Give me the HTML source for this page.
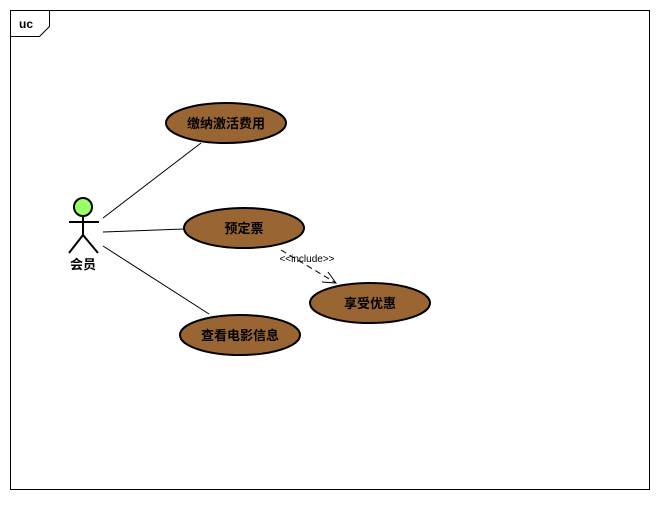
<!DOCTYPE html>
<html><head><meta charset="utf-8"><style>body{margin:0;background:#fff}</style></head><body>
<svg width="660" height="500" xmlns="http://www.w3.org/2000/svg" font-family="Liberation Sans, Noto Sans CJK SC, sans-serif">
<rect x="10.5" y="10.5" width="639" height="479" fill="#fff" stroke="#000"/>
<path d="M10.5 36.5 H39.5 L49.5 26.5 V10.5" fill="none" stroke="#000"/>
<text x="19" y="28" font-size="12" font-weight="bold">uc</text>
<g stroke="#000" fill="none">
<line x1="103" y1="218" x2="201" y2="143"/>
<line x1="103" y1="232" x2="184" y2="229"/>
<line x1="103" y1="246" x2="209" y2="314"/>
<line x1="281" y1="250" x2="336" y2="283" stroke-dasharray="6,4"/>
<path d="M322 282 L336 283 L328 272"/>
</g>
<g fill="#996633" stroke="#000" stroke-width="2">
<ellipse cx="226" cy="123" rx="60" ry="20"/>
<ellipse cx="244" cy="228" rx="60" ry="20"/>
<ellipse cx="370" cy="303" rx="60" ry="20"/>
<ellipse cx="240" cy="335" rx="60" ry="20"/>
</g>
<g font-size="13" font-weight="bold" text-anchor="middle" fill="#000">
<text x="226" y="128">缴纳激活费用</text>
<text x="244" y="233">预定票</text>
<text x="370" y="308">享受优惠</text>
<text x="240" y="340">查看电影信息</text>
<text x="83" y="269">会员</text>
</g>
<text x="307" y="262" font-size="10" text-anchor="middle">&lt;&lt;include&gt;&gt;</text>
<circle cx="83" cy="207" r="9" fill="#99ff66" stroke="#000" stroke-width="2"/>
<g stroke="#000" stroke-width="2">
<line x1="83" y1="216" x2="83" y2="235"/>
<line x1="69" y1="222" x2="99" y2="222"/>
<line x1="83" y1="235" x2="69" y2="253"/>
<line x1="83" y1="235" x2="98" y2="253"/>
</g>
</svg>
</body></html>
